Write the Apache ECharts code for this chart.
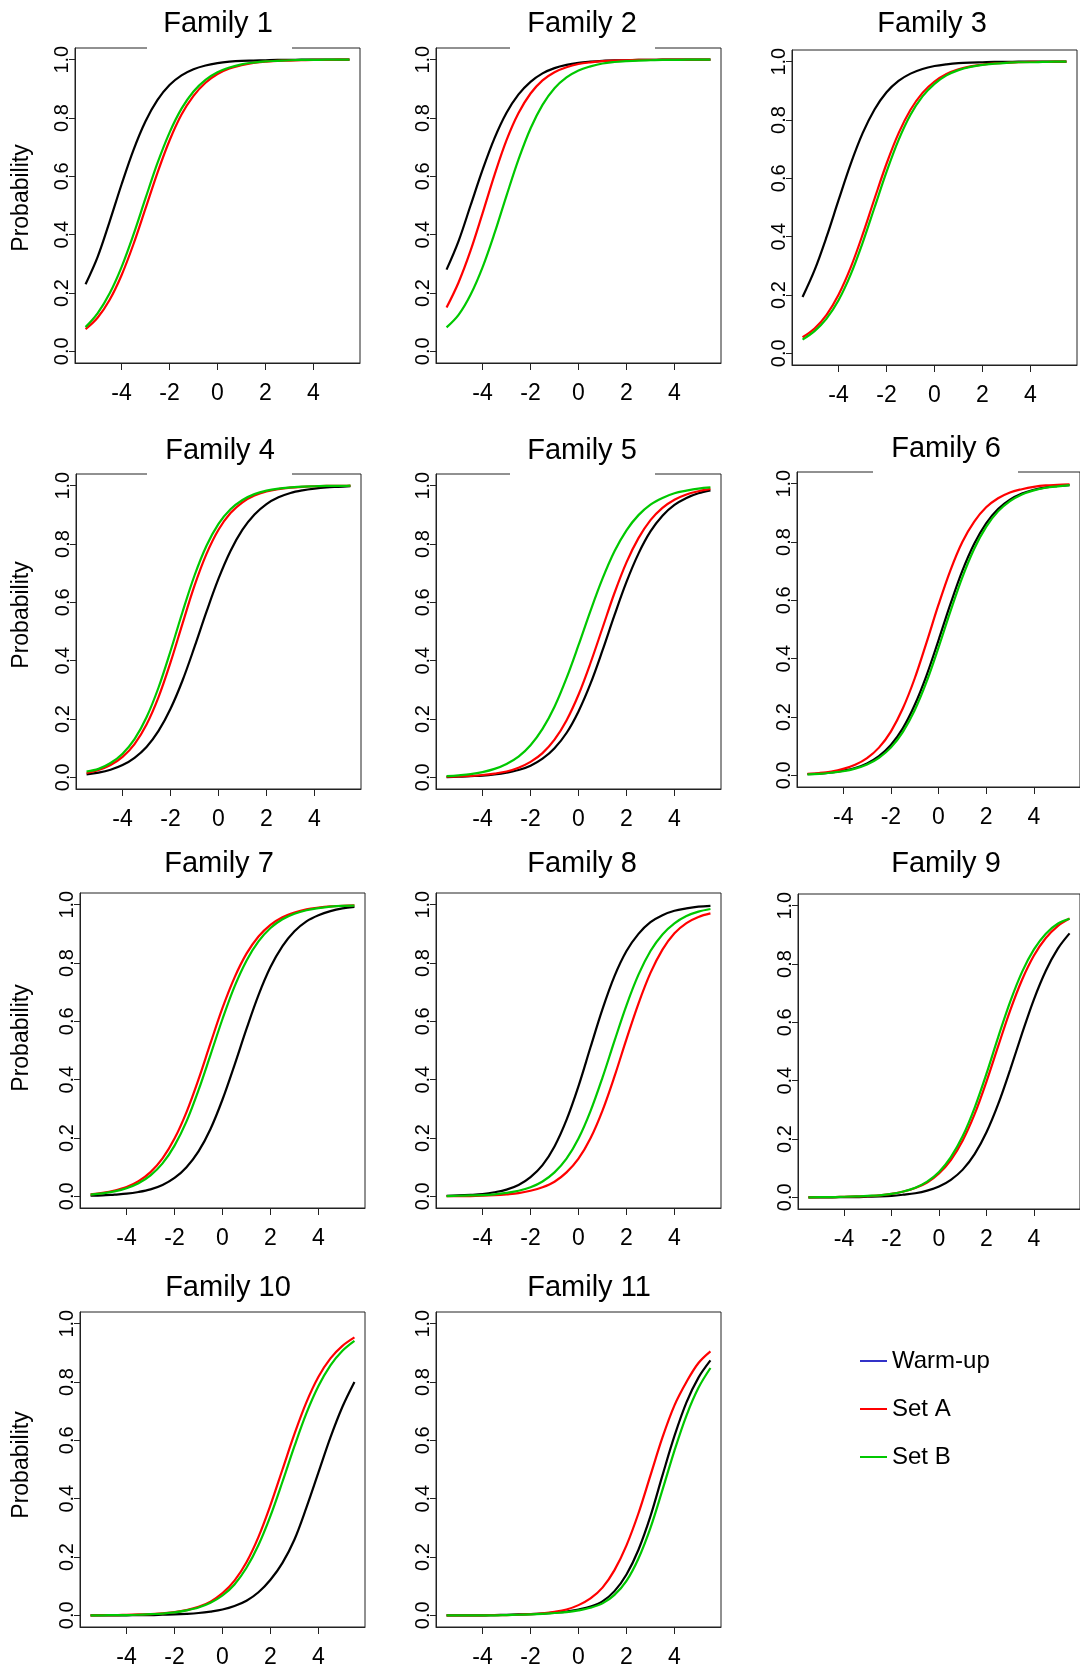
<!DOCTYPE html>
<html>
<head>
<meta charset="utf-8">
<script src="https://cdn.jsdelivr.net/npm/echarts@6/dist/echarts.min.js"></script>
<style>
  html, body { margin: 0; padding: 0; background: #ffffff; }
  #chart { width: 1080px; height: 1678px; }
</style>
</head>
<body>
<div id="chart"></div>
<script>
// Ability grid shared by every item characteristic curve
const ability = [-5.5, -5, -4.5, -4, -3.5, -3, -2.5, -2, -1.5, -1, -0.5, 0, 0.5, 1, 1.5, 2, 2.5, 3, 3.5, 4, 4.5, 5, 5.5];

// Tick positions
const xTicks = [-4, -2, 0, 2, 4];
const yTicks = [0, 0.2, 0.4, 0.6, 0.8, 1.0];

// Probability of a correct response, per family and item set
const f1WarmUp = [0.23,0.323,0.444,0.572,0.691,0.789,0.862,0.913,0.946,0.967,0.98,0.988,0.993,0.996,0.997,0.998,0.999,0.999,1,1,1,1,1];
const f1SetA   = [0.076,0.115,0.176,0.261,0.368,0.49,0.613,0.723,0.812,0.876,0.921,0.951,0.97,0.981,0.989,0.993,0.996,0.997,0.998,0.999,0.999,1,1];
const f1SetB   = [0.083,0.13,0.198,0.289,0.401,0.525,0.646,0.75,0.832,0.891,0.931,0.957,0.973,0.984,0.99,0.994,0.996,0.998,0.999,0.999,1,1,1];

const f2WarmUp = [0.28,0.378,0.5,0.622,0.731,0.818,0.881,0.924,0.953,0.971,0.982,0.989,0.993,0.996,0.998,0.998,0.999,0.999,1,1,1,1,1];
const f2SetA   = [0.15,0.236,0.345,0.473,0.605,0.724,0.817,0.884,0.929,0.957,0.974,0.985,0.991,0.995,0.997,0.998,0.999,0.999,1,1,1,1,1];
const f2SetB   = [0.082,0.125,0.194,0.288,0.405,0.534,0.658,0.764,0.845,0.902,0.939,0.963,0.977,0.987,0.992,0.995,0.997,0.998,0.999,0.999,1,1,1];

const f3WarmUp = [0.193,0.285,0.399,0.525,0.648,0.754,0.836,0.895,0.934,0.959,0.975,0.985,0.991,0.995,0.997,0.998,0.999,0.999,1,1,1,1,1];
const f3SetA   = [0.055,0.085,0.132,0.201,0.293,0.406,0.53,0.65,0.754,0.835,0.893,0.932,0.958,0.974,0.984,0.99,0.994,0.996,0.998,0.999,0.999,1,1];
const f3SetB   = [0.047,0.076,0.119,0.182,0.269,0.378,0.5,0.622,0.731,0.818,0.881,0.924,0.953,0.971,0.982,0.989,0.993,0.996,0.998,0.998,0.999,1,1];

const f4WarmUp = [0.01,0.016,0.026,0.042,0.067,0.104,0.159,0.235,0.332,0.447,0.568,0.681,0.776,0.849,0.901,0.937,0.96,0.975,0.984,0.99,0.994,0.996,0.998];
const f4SetA   = [0.015,0.025,0.042,0.07,0.114,0.181,0.275,0.394,0.527,0.657,0.766,0.849,0.906,0.943,0.966,0.98,0.988,0.993,0.996,0.998,0.999,0.999,1];
const f4SetB   = [0.02,0.029,0.049,0.081,0.131,0.206,0.308,0.433,0.567,0.692,0.794,0.869,0.919,0.951,0.971,0.983,0.99,0.994,0.997,0.998,0.999,0.999,1];

const f5WarmUp = [0.001,0.002,0.004,0.006,0.01,0.016,0.025,0.04,0.064,0.1,0.152,0.226,0.321,0.435,0.556,0.67,0.767,0.843,0.897,0.934,0.958,0.974,0.984];
const f5SetA   = [0.002,0.003,0.005,0.008,0.013,0.02,0.033,0.053,0.083,0.129,0.195,0.283,0.392,0.512,0.632,0.737,0.82,0.882,0.924,0.952,0.97,0.981,0.989];
const f5SetB   = [0.004,0.007,0.011,0.018,0.029,0.046,0.071,0.11,0.166,0.242,0.34,0.453,0.571,0.681,0.775,0.847,0.899,0.935,0.958,0.974,0.983,0.99,0.994];

const f6WarmUp = [0.004,0.006,0.01,0.016,0.025,0.041,0.066,0.104,0.161,0.241,0.343,0.463,0.587,0.701,0.794,0.864,0.913,0.945,0.966,0.979,0.987,0.992,0.995];
const f6SetA   = [0.005,0.008,0.013,0.022,0.036,0.059,0.095,0.15,0.229,0.332,0.456,0.585,0.703,0.8,0.87,0.919,0.95,0.97,0.981,0.989,0.994,0.996,0.998];
const f6SetB   = [0.003,0.005,0.009,0.014,0.023,0.037,0.06,0.095,0.148,0.223,0.321,0.438,0.562,0.679,0.777,0.852,0.905,0.94,0.963,0.977,0.986,0.991,0.995];

const f7WarmUp = [0.002,0.003,0.006,0.009,0.015,0.024,0.039,0.063,0.1,0.154,0.231,0.332,0.45,0.574,0.69,0.786,0.858,0.909,0.943,0.964,0.978,0.987,0.992];
const f7SetA   = [0.007,0.012,0.02,0.032,0.052,0.083,0.13,0.198,0.289,0.401,0.525,0.646,0.75,0.832,0.891,0.931,0.957,0.973,0.984,0.99,0.994,0.996,0.998];
const f7SetB   = [0.006,0.01,0.017,0.028,0.045,0.072,0.113,0.174,0.257,0.364,0.485,0.608,0.719,0.808,0.874,0.92,0.95,0.969,0.981,0.988,0.993,0.996,0.997];

const f8WarmUp = [0.002,0.003,0.005,0.008,0.014,0.023,0.039,0.066,0.107,0.171,0.262,0.378,0.511,0.642,0.755,0.841,0.9,0.94,0.964,0.979,0.987,0.993,0.996];
const f8SetA   = [0.001,0.001,0.001,0.002,0.004,0.007,0.011,0.019,0.031,0.05,0.082,0.129,0.199,0.294,0.411,0.539,0.661,0.766,0.846,0.902,0.937,0.958,0.97];
const f8SetB   = [0.001,0.002,0.003,0.004,0.007,0.012,0.019,0.031,0.051,0.082,0.129,0.198,0.292,0.407,0.533,0.655,0.76,0.841,0.898,0.936,0.961,0.976,0.985];

const f9WarmUp = [0,0,0,0.001,0.001,0.002,0.003,0.005,0.009,0.014,0.023,0.037,0.06,0.095,0.148,0.223,0.321,0.438,0.562,0.679,0.777,0.852,0.905];
const f9SetA   = [0,0.001,0.001,0.002,0.003,0.004,0.007,0.012,0.02,0.032,0.051,0.082,0.128,0.195,0.285,0.397,0.52,0.641,0.746,0.829,0.889,0.93,0.956];
const f9SetB   = [0,0.001,0.001,0.002,0.003,0.005,0.007,0.012,0.02,0.033,0.054,0.087,0.138,0.21,0.307,0.424,0.551,0.671,0.773,0.85,0.904,0.938,0.955];

const f10WarmUp = [0,0,0,0,0.001,0.001,0.002,0.003,0.005,0.008,0.013,0.02,0.032,0.05,0.079,0.122,0.18,0.26,0.37,0.49,0.61,0.715,0.8];
const f10SetA   = [0,0.001,0.001,0.002,0.003,0.004,0.007,0.011,0.018,0.029,0.047,0.076,0.119,0.182,0.269,0.378,0.5,0.622,0.731,0.818,0.881,0.924,0.953];
const f10SetB   = [0,0,0.001,0.001,0.002,0.004,0.006,0.01,0.017,0.027,0.043,0.068,0.106,0.163,0.241,0.341,0.458,0.58,0.693,0.786,0.857,0.907,0.941];

const f11WarmUp = [0,0,0,0,0.001,0.002,0.003,0.004,0.006,0.009,0.013,0.02,0.03,0.048,0.083,0.14,0.225,0.34,0.48,0.615,0.73,0.815,0.874];
const f11SetA   = [0,0,0,0,0.001,0.001,0.002,0.004,0.007,0.012,0.02,0.035,0.058,0.095,0.155,0.24,0.35,0.48,0.61,0.72,0.8,0.865,0.905];
const f11SetB   = [0,0,0,0,0,0.001,0.002,0.003,0.005,0.008,0.011,0.017,0.026,0.041,0.07,0.118,0.195,0.3,0.43,0.565,0.685,0.78,0.848];

const titles = ['Family 1','Family 2','Family 3','Family 4','Family 5','Family 6','Family 7','Family 8','Family 9','Family 10','Family 11'];
const seriesNames = ['Warm-up', 'Set A', 'Set B'];
const lineColors = ['#000000', '#ff0000', '#00c800'];
const legendColors = ['#3232c8', '#ff0000', '#00c800'];

const curves = [
  [f1WarmUp, f1SetA, f1SetB], [f2WarmUp, f2SetA, f2SetB], [f3WarmUp, f3SetA, f3SetB],
  [f4WarmUp, f4SetA, f4SetB], [f5WarmUp, f5SetA, f5SetB], [f6WarmUp, f6SetA, f6SetB],
  [f7WarmUp, f7SetA, f7SetB], [f8WarmUp, f8SetA, f8SetB], [f9WarmUp, f9SetA, f9SetB],
  [f10WarmUp, f10SetA, f10SetB], [f11WarmUp, f11SetA, f11SetB]
];

// Panel placement: plot box, title centre, break in the top edge, y-label centre
const layout = [
  { left: 75,  top: 48,   tx: 218, ty: 24,   gap: [147, 292], ylab: 198 },
  { left: 436, top: 48,   tx: 582, ty: 24,   gap: [510, 655] },
  { left: 792, top: 50,   tx: 932, ty: 24 },
  { left: 76,  top: 474,  tx: 220, ty: 451,  gap: [147, 292], ylab: 615 },
  { left: 436, top: 474,  tx: 582, ty: 451,  gap: [510, 655] },
  { left: 797, top: 472,  tx: 946, ty: 449,  gap: [873, 1018] },
  { left: 80,  top: 893,  tx: 219, ty: 864,  ylab: 1038 },
  { left: 436, top: 893,  tx: 582, ty: 864 },
  { left: 798, top: 894,  tx: 946, ty: 864 },
  { left: 80,  top: 1312, tx: 228, ty: 1288, ylab: 1465 },
  { left: 436, top: 1312, tx: 589, ty: 1288 }
];

const FONT = '"Liberation Sans", Arial, Helvetica, sans-serif';
const FRAME = '#222222';
const PLOT_W = 285, PLOT_H = 315;

const chart = echarts.init(document.getElementById('chart'), null, { renderer: 'canvas' });

const grid = layout.map(p => ({
  left: p.left, top: p.top, width: PLOT_W, height: PLOT_H,
  show: true, borderColor: FRAME, borderWidth: 1, backgroundColor: 'transparent'
}));

const xAxis = layout.map((p, i) => ({
  type: 'value', gridIndex: i, min: -5.94, max: 5.94,
  axisLine: { show: true, onZero: false, lineStyle: { color: FRAME, width: 1 } },
  axisTick: { show: true, customValues: xTicks, length: 7, lineStyle: { color: FRAME, width: 1 } },
  axisLabel: { customValues: xTicks, margin: 19, fontSize: 23, color: '#000', fontFamily: FONT },
  splitLine: { show: false }
}));

const yAxis = layout.map((p, i) => ({
  type: 'value', gridIndex: i, min: -0.04, max: 1.04,
  axisLine: { show: true, onZero: false, lineStyle: { color: FRAME, width: 1 } },
  axisTick: { show: true, customValues: yTicks, length: 6, lineStyle: { color: FRAME, width: 1 } },
  axisLabel: {
    customValues: yTicks, rotate: 90, margin: 3, fontSize: 20, color: '#000', fontFamily: FONT,
    formatter: v => v.toFixed(1)
  },
  splitLine: { show: false }
}));

const title = layout.map((p, i) => ({
  text: titles[i], left: p.tx, top: p.ty, textAlign: 'center', textVerticalAlign: 'middle', padding: 0,
  textStyle: { fontSize: 29, fontWeight: 'normal', color: '#000', fontFamily: FONT }
}));

const graphic = [];
layout.forEach(p => {
  if (p.gap) {
    graphic.push({
      type: 'rect', z: 10, silent: true,
      shape: { x: p.gap[0], y: p.top - 3, width: p.gap[1] - p.gap[0], height: 6 },
      style: { fill: '#ffffff' }
    });
  }
  if (p.ylab) {
    graphic.push({
      type: 'text', z: 10, silent: true, x: 22, y: p.ylab, rotation: Math.PI / 2,
      style: { text: 'Probability', fontSize: 23, fontFamily: FONT, fill: '#000', align: 'center', verticalAlign: 'middle' }
    });
  }
});

const series = [];
curves.forEach((trio, i) => {
  trio.forEach((vals, k) => {
    series.push({
      type: 'line', name: seriesNames[k], xAxisIndex: i, yAxisIndex: i,
      data: ability.map((x, j) => [x, vals[j]]),
      symbol: 'none', showSymbol: false, smooth: 0.35,
      lineStyle: { color: lineColors[k], width: 2.2 },
      itemStyle: { color: lineColors[k] },
      z: 2 + k, silent: true
    });
  });
});

chart.setOption({
  animation: false,
  backgroundColor: '#ffffff',
  title, grid, xAxis, yAxis, series, graphic,
  legend: {
    orient: 'vertical', left: 860, top: 1349, padding: 0,
    icon: 'rect', itemWidth: 27, itemHeight: 2, itemGap: 24,
    selectedMode: false,
    textStyle: { fontSize: 24, color: '#000', fontFamily: FONT },
    data: seriesNames.map((n, k) => ({ name: n, itemStyle: { color: legendColors[k] } }))
  }
});
</script>
</body>
</html>
